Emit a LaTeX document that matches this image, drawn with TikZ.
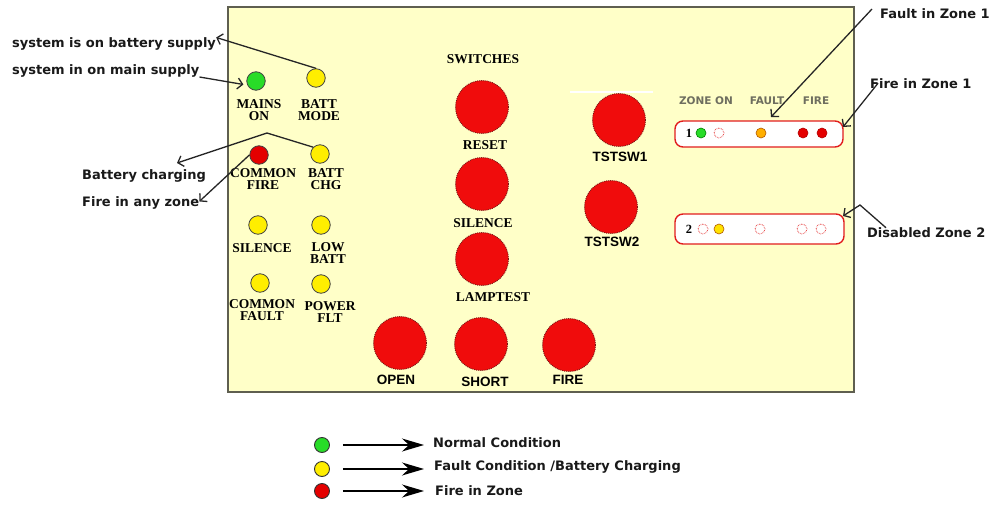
\documentclass[tikz,border=0pt]{standalone}
\usepackage{fontspec}
\setmainfont{Liberation Serif}
\newfontfamily\annfont{DejaVu Sans}
\newfontfamily\arialfont{Liberation Sans}
\usetikzlibrary{arrows.meta}
\definecolor{panelbg}{RGB}{255,255,200}
\definecolor{paneledge}{RGB}{95,95,80}
\definecolor{ledgreen}{RGB}{40,220,40}
\definecolor{ledyellow}{RGB}{255,238,0}
\definecolor{ledred}{RGB}{228,0,0}
\definecolor{btnred}{RGB}{240,12,12}
\definecolor{btnedge}{RGB}{120,20,20}
\definecolor{zonegray}{RGB}{110,110,95}
\definecolor{orangeled}{RGB}{255,175,0}
\definecolor{zonered}{RGB}{225,30,30}
\tikzset{
  ann/.style={font=\annfont\bfseries\fontsize{13}{15}\selectfont, inner sep=0pt, anchor=west, text=black!90},
  lbl/.style={font=\bfseries\fontsize{13.5}{12.5}\selectfont, align=center, inner sep=0pt},
  swl/.style={font=\arialfont\bfseries\fontsize{13.5}{15}\selectfont, inner sep=0pt},
  zhd/.style={font=\annfont\bfseries\fontsize{10.5}{12}\selectfont, inner sep=0pt, text=zonegray},
  led/.style={circle, draw=black!75, line width=0.8pt, minimum size=18.5pt, inner sep=0pt},
  btn/.style={circle, fill=btnred, draw=btnedge, densely dotted, line width=0.9pt, minimum size=53pt, inner sep=0pt},
  zdot/.style={circle, minimum size=10pt, inner sep=0pt, line width=0.6pt},
  zhol/.style={zdot, fill=white, draw=zonered!85, densely dotted, line width=0.9pt},
  zbox/.style={rounded corners=8pt, draw=zonered, line width=1.4pt, fill=white},
  lgc/.style={circle, draw=black!80, line width=0.9pt, minimum size=15pt, inner sep=0pt},
  annarrow/.style={draw=black!85, line width=1.3pt, -{Straight Barb[length=5pt,width=11pt]}},
  lgarrow/.style={draw=black, line width=1.3pt, -{Stealth[length=22pt,width=13pt,inset=7pt]}},
}
\begin{document}
\begin{tikzpicture}[x=1pt,y=-1pt]
\useasboundingbox (0,0) rectangle (994,506);
% panel
\node[draw=paneledge, line width=1.1pt, fill=panelbg, minimum width=626pt, minimum height=385pt, inner sep=0pt] (panel) at (541,199.5) {};
\draw[white, line width=1.5pt] (570,92) -- (653,92);

% left LEDs
\node[led, fill=ledgreen] (mains) at (256,81) {};
\node[led, fill=ledyellow] (battmode) at (316,78) {};
\node[led, fill=ledred] (cfire) at (259,155) {};
\node[led, fill=ledyellow] (battchg) at (320,154) {};
\node[led, fill=ledyellow] (silled) at (258,225) {};
\node[led, fill=ledyellow] (lowbatt) at (321,225) {};
\node[led, fill=ledyellow] (cfault) at (260,283) {};
\node[led, fill=ledyellow] (pwrflt) at (321,284) {};

\node[lbl] (lmains) at (259,110) {MAINS\\ON};
\node[lbl] (lbattmode) at (319,110) {BATT\\MODE};
\node[lbl] (lcfire) at (263,179) {COMMON\\FIRE};
\node[lbl] (lbattchg) at (326,179) {BATT\\CHG};
\node[lbl] (lsil) at (262,248) {SILENCE};
\node[lbl] (llow) at (328,253) {LOW\\BATT};
\node[lbl] (lcfault) at (262,310) {COMMON\\FAULT};
\node[lbl] (lpwr) at (330,312) {POWER\\FLT};

% switches
\node[lbl] (lswitches) at (483,59) {SWITCHES};
\node[btn] (reset) at (482,107) {};
\node[lbl] (lreset) at (485,145) {RESET};
\node[btn] (silbtn) at (482,184) {};
\node[lbl] (lsilbtn) at (483,223) {SILENCE};
\node[btn] (lamp) at (482,259) {};
\node[lbl] (llamp) at (493,297) {LAMPTEST};
\node[btn] (open) at (400,343) {};
\node[swl] (lopen) at (396,380) {OPEN};
\node[btn] (short) at (481,344) {};
\node[swl] (lshort) at (485,382) {SHORT};
\node[btn] (firebtn) at (569,345) {};
\node[swl] (lfirebtn) at (568,380) {FIRE};
\node[btn] (ts1) at (619,120) {};
\node[swl] (lts1) at (620,157) {TSTSW1};
\node[btn] (ts2) at (611,207) {};
\node[swl] (lts2) at (612,242) {TSTSW2};

% zones
\node[zhd] (hzon) at (706,101) {ZONE ON};
\node[zhd] (hfault) at (767,101) {FAULT};
\node[zhd] (hfire) at (816,101) {FIRE};
\node[zbox, minimum width=168pt, minimum height=26pt, inner sep=0pt] (zone1) at (759,134) {};
\node[zbox, minimum width=169pt, minimum height=30pt, inner sep=0pt] (zone2) at (759.5,229) {};
\node[font=\bfseries\fontsize{12.5}{12}\selectfont, inner sep=0pt] (z1n) at (689,133) {1};
\node[zdot, fill=ledgreen, draw=green!50!black] (z1a) at (701,133) {};
\node[zhol] (z1b) at (719,133) {};
\node[zdot, fill=orangeled, draw=orange!70!black] (z1c) at (761,133) {};
\node[zdot, fill=ledred, draw=red!70!black] (z1d) at (803,133) {};
\node[zdot, fill=ledred, draw=red!70!black] (z1e) at (822,133) {};
\node[font=\bfseries\fontsize{12.5}{12}\selectfont, inner sep=0pt] (z2n) at (689,229) {2};
\node[zhol] (z2a) at (703,229) {};
\node[zdot, fill=ledyellow!90!orange, draw=orange!70!black] (z2b) at (719,229) {};
\node[zhol] (z2c) at (760,229) {};
\node[zhol] (z2d) at (802,229) {};
\node[zhol] (z2e) at (821,229) {};

% annotations
\node[ann] (tbatt) at (12,44) {system is on battery supply};
\node[ann] (tmain) at (12,71) {system in on main supply};
\node[ann] (tcharge) at (82,176) {Battery charging};
\node[ann] (tanyfire) at (82,203) {Fire in any zone};
\node[ann] (tfault1) at (880,14) {Fault in Zone 1};
\node[ann] (tfire1) at (870,84) {Fire in Zone 1};
\node[ann] (tdis) at (867,233) {Disabled Zone 2};

\coordinate (chgbend) at (267,133);
\coordinate (chgtip) at (177,163);
\coordinate (faulttip) at (771,117);
\coordinate (fire1tip) at (843,127);
\coordinate (disbend) at (860,205);
\coordinate (distip) at (843,216);

\draw[annarrow] (battmode.north) -- (tbatt.north east);
\draw[annarrow, shorten >=3pt] (tmain.east) ++(0,6) -- ([yshift=-4pt]mains.west);
\draw[annarrow] (battchg.north west) -- (chgbend) -- (chgtip);
\draw[annarrow] (cfire.west) -- ([yshift=-5pt]tanyfire.north east);
\draw[annarrow] ([xshift=-8pt,yshift=5pt]tfault1.west) -- (faulttip);
\draw[annarrow] ([xshift=8pt,yshift=6pt]tfire1.south west) -- (fire1tip);
\draw[annarrow] ([xshift=19pt]tdis.north west) -- (disbend) -- (distip);

% legend
\node[lgc, fill=ledgreen] (lg1) at (322,445) {};
\node[lgc, fill=ledyellow] (lg2) at (322,469) {};
\node[lgc, fill=ledred] (lg3) at (322,491) {};
\node[ann] (lt1) at (433,443) {Normal Condition};
\node[ann] (lt2) at (434,467) {Fault Condition /Battery Charging};
\node[ann] (lt3) at (435,491) {Fire in Zone};
\draw[lgarrow, shorten <=13pt, shorten >=9pt] (lg1.east) -- (lg1.east -| lt1.west);
\draw[lgarrow, shorten <=13pt, shorten >=9pt] (lg2.east) -- (lg2.east -| lt1.west);
\draw[lgarrow, shorten <=13pt, shorten >=9pt] (lg3.east) -- (lg3.east -| lt1.west);
\end{tikzpicture}
\end{document}
